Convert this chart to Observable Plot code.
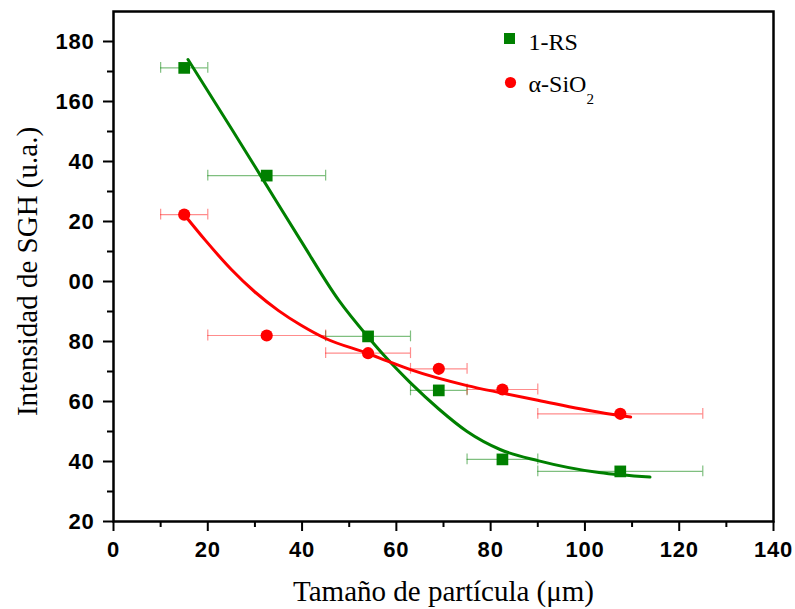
<!DOCTYPE html>
<html><head><meta charset="utf-8">
<script src="https://cdn.jsdelivr.net/npm/d3@7"></script>
<script src="https://cdn.jsdelivr.net/npm/@observablehq/plot@0.6"></script>
<style>
html,body{margin:0;padding:0;background:#fff}
svg g[aria-label="x-axis tick label"] text, svg g[aria-label="y-axis tick label"] text{letter-spacing:0.8px}
</style>
</head><body><div id="chart"></div>
<script>
// ---- data ----
const particleSize = [15, 32.5, 54, 69, 82.5, 107.5];
const sizeLow      = [10, 20, 45, 63, 75, 90];
const sizeHigh     = [20, 45, 63, 75, 90, 125];
const rsIntensity  = [171.2, 135.3, 81.7, 63.7, 40.7, 36.7];
const sioIntensity = [122.3, 82, 76.1, 70.9, 64, 55.9];

const rsFitX  = [15.8, 20, 25, 31.2, 39.7, 47.8, 54, 58, 63, 69, 75, 82, 90, 103, 113.8];
const rsFitY  = [174, 163.5, 151, 135.3, 113.7, 93.7, 81.5, 74.3, 66.2, 57.5, 50, 44, 40.3, 36.3, 34.8];
const sioFitX = [15, 19.5, 25, 30, 35, 39.7, 45, 54, 58.4, 63, 75, 82.5, 90, 103.3, 109.7];
const sioFitY = [122.3, 113.7, 104, 96.5, 90.3, 85.5, 81, 76, 73.3, 70.6, 65.3, 62.8, 60.4, 56.3, 54.8];

const xTicks = [0, 20, 40, 60, 80, 100, 120, 140];
const xTickLabels = ["0", "20", "40", "60", "80", "100", "120", "140"];
const xMinorTicks = [10, 30, 50, 70, 90, 110, 130];
const yTicks = [20, 40, 60, 80, 100, 120, 140, 160, 180];
const yTickLabels = ["20", "40", "60", "80", "00", "20", "40", "160", "180"];
const yMinorTicks = [30, 50, 70, 90, 110, 130, 150, 170];

const seriesNames = ["1-RS", "α-SiO"];
const sioSubscript = "2";
const xTitle = "Tamaño de partícula (μm)";
const yTitle = "Intensidad de SGH (u.a.)";

const green = "#008000", red = "#ff0000";

// ---- tables ----
const rsRows  = particleSize.map((x, i) => ({x, lo: sizeLow[i], hi: sizeHigh[i], y: rsIntensity[i]}));
const sioRows = particleSize.map((x, i) => ({x, lo: sizeLow[i], hi: sizeHigh[i], y: sioIntensity[i]}));
const rsFit  = rsFitX.map((x, i) => ({x, y: rsFitY[i]}));
const sioFit = sioFitX.map((x, i) => ({x, y: sioFitY[i]}));

const cap = 1.8;
function errorBars(rows, color, op) {
  return [
    Plot.ruleY(rows, {y: "y", x1: "lo", x2: "hi", stroke: color, strokeWidth: 1.2, strokeOpacity: op}),
    Plot.ruleX(rows, {x: "lo", y1: d => d.y - cap, y2: d => d.y + cap, stroke: color, strokeWidth: 1.2, strokeOpacity: op}),
    Plot.ruleX(rows, {x: "hi", y1: d => d.y - cap, y2: d => d.y + cap, stroke: color, strokeWidth: 1.2, strokeOpacity: op})
  ];
}

const tickFont = {fontSize: 22, fontWeight: "bold", fontFamily: "Liberation Sans"};
const serif = {fontFamily: "Liberation Serif", fontWeight: "normal"};

const chart = Plot.plot({
  width: 795,
  height: 609,
  marginLeft: 113,
  marginRight: 22,
  marginTop: 11,
  marginBottom: 88,
  style: {background: "white", color: "black", fontFamily: "Liberation Sans", fontSize: "22px", fontWeight: "bold"},
  x: {domain: [0, 140]},
  y: {domain: [20, 190]},
  marks: [
    ...errorBars(rsRows, green, 0.5),
    ...errorBars(sioRows, red, 0.45),
    Plot.line(rsFit, {x: "x", y: "y", stroke: green, strokeWidth: 3, curve: "monotone-x"}),
    Plot.line(sioFit, {x: "x", y: "y", stroke: red, strokeWidth: 3, curve: "monotone-x"}),
    Plot.dot(rsRows, {x: "x", y: "y", symbol: "square", r: 6.6, fill: green}),
    Plot.dot(sioRows, {x: "x", y: "y", symbol: "circle", r: 6.1, fill: red}),
    Plot.axisX(xTicks, {tickSize: 10, tickPadding: 10, strokeWidth: 2, label: null,
      tickFormat: d => xTickLabels[xTicks.indexOf(d)], ...tickFont}),
    Plot.axisX(xMinorTicks, {tickSize: 6, strokeWidth: 2, label: null, tickFormat: () => ""}),
    Plot.axisY(yTicks, {tickSize: 10, tickPadding: 9, strokeWidth: 2, label: null,
      tickFormat: d => yTickLabels[yTicks.indexOf(d)], ...tickFont}),
    Plot.axisY(yMinorTicks, {tickSize: 6, strokeWidth: 2, label: null, tickFormat: () => ""}),
    Plot.frame({stroke: "black", strokeWidth: 2.5}),
    // legend
    Plot.dot([seriesNames[0]], {frameAnchor: "top-left", dx: 396, dy: 27, symbol: "square", r: 6.2, fill: green}),
    Plot.dot([seriesNames[1]], {frameAnchor: "top-left", dx: 397, dy: 71, symbol: "circle", r: 5.6, fill: red}),
    Plot.text([seriesNames[0]], {text: d => d, frameAnchor: "top-left", dx: 415, dy: 38.5,
      textAnchor: "start", lineAnchor: "bottom", fontSize: 24, ...serif}),
    Plot.text([seriesNames[1]], {text: d => d, frameAnchor: "top-left", dx: 415, dy: 80,
      textAnchor: "start", lineAnchor: "bottom", fontSize: 24, className: "legend-sio", ...serif}),
    // axis titles
    Plot.text([xTitle], {text: d => d, frameAnchor: "bottom", dy: 79, textAnchor: "middle",
      lineAnchor: "bottom", fontSize: 29, ...serif}),
    Plot.text([yTitle], {text: d => d, frameAnchor: "left", dx: -86, dy: 5, rotate: -90,
      textAnchor: "middle", lineAnchor: "middle", fontSize: 29, ...serif})
  ]
});

// subscript 2 on α-SiO
const t = chart.querySelector(".legend-sio text");
if (t) {
  const ts = document.createElementNS("http://www.w3.org/2000/svg", "tspan");
  ts.setAttribute("dy", "12");
  ts.setAttribute("font-size", "15");
  ts.textContent = sioSubscript;
  t.appendChild(ts);
}
document.getElementById("chart").appendChild(chart);
</script>
</body></html>
